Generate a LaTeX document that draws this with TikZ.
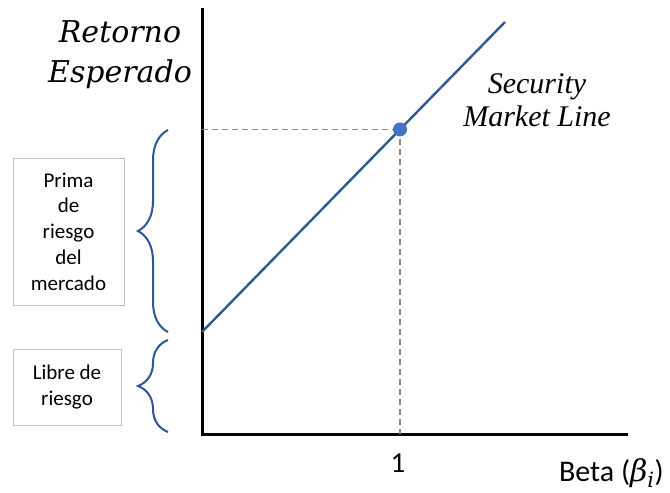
\documentclass[tikz,border=0pt]{standalone}
\usepackage{fontspec}
\setmainfont{Carlito}
\newfontfamily\djserif{DejaVu Serif}
\newfontfamily\tmsfont{Liberation Serif}
\usetikzlibrary{decorations.pathreplacing,calc}
\definecolor{smlblue}{RGB}{46,90,140}
\definecolor{dotblue}{RGB}{68,114,196}
\definecolor{braceblue}{RGB}{47,85,151}
\definecolor{boxgray}{RGB}{191,191,191}
\begin{document}
\begin{tikzpicture}[x=1pt,y=-1pt,
  axis/.style={line width=3pt,black},
  smlline/.style={line width=2.4pt,smlblue},
  guide/.style={line width=1.8pt,black!45,dash pattern=on 6pt off 4pt},
  dot/.style={circle,fill=dotblue,inner sep=0pt,minimum size=14pt},
  bracestyle/.style={line width=2pt,braceblue,decorate,decoration={brace,amplitude=30pt}},
  labelbox/.style={draw=boxgray,line width=1pt,align=center,inner sep=0pt,
     font=\fontsize{21}{25.7}\selectfont},
  title/.style={font=\djserif\itshape\fontsize{30}{40}\selectfont,align=center},
  sml/.style={font=\tmsfont\itshape\fontsize{30}{33}\selectfont,align=center},
  ticklabel/.style={font=\fontsize{29}{30}\selectfont,anchor=base}
]
\useasboundingbox (0,0) rectangle (670,493);
\coordinate (O) at (202,434);
\coordinate (ytop) at (202,8);
\coordinate (xend) at (628,434);
\draw[axis] (ytop) -- (O) -- (xend);
\coordinate (s0) at (202,332);
\coordinate (s1) at (505,22);
\coordinate (m) at ($(s0)!0.6535!(s1)$);
\coordinate (my) at (m -| O);
\coordinate (mx) at (m |- O);
\draw[guide] (my) -- (m);
\draw[guide] (m) -- (mx);
\draw[smlline] (s0) -- (s1);
\node[dot] (pt) at (m) {};
% braces
\coordinate (b1a) at (168,332);
\coordinate (b1b) at (168,130);
\coordinate (b2a) at (168,432);
\coordinate (b2b) at (168,340);
\draw[bracestyle] (b1a) -- (b1b);
\draw[bracestyle] (b2a) -- (b2b);
% boxes
\node[labelbox,minimum width=111pt,minimum height=147pt] (prima) at (68.5,231.5) {Prima\\de\\riesgo\\del\\mercado};
\node[labelbox,minimum width=108pt,minimum height=76pt] (libre) at (67,387) {Libre de\\riesgo};
% texts
\node[title] (ret) at (120,55) {Retorno\\Esperado};
\node[sml] (smltext) at (537,100) {Security\\Market Line};
\node[ticklabel] (one) at (398,472) {1};
\node[font=\fontsize{30}{34}\selectfont,anchor=base east,inner sep=0pt] (beta) at (664,481) {Beta ({\djserif\itshape β\textsubscript{i}})};
\end{tikzpicture}
\end{document}
